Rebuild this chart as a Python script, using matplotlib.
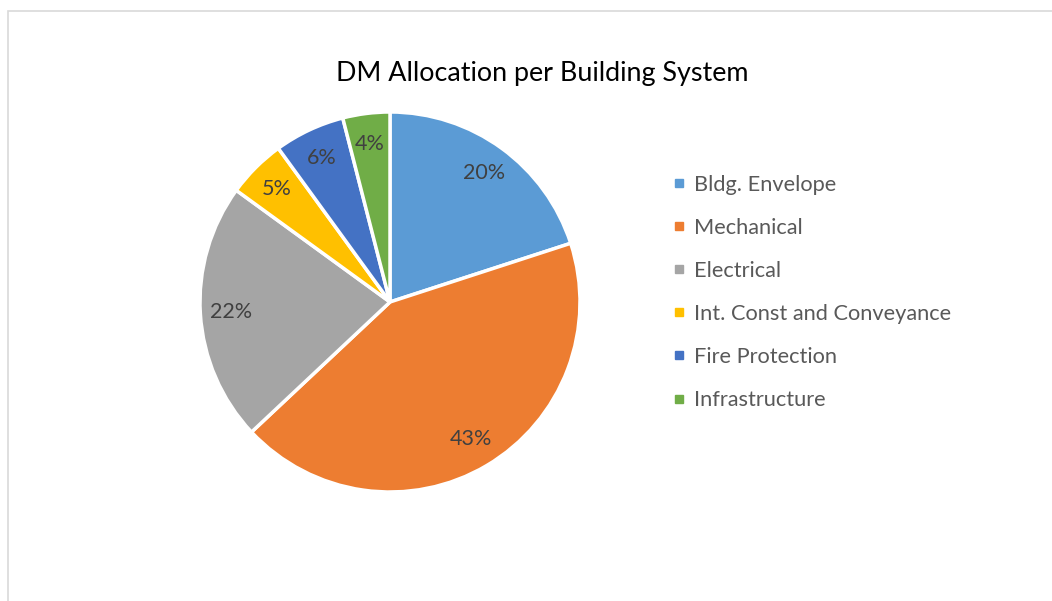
import matplotlib.pyplot as plt
from matplotlib.lines import Line2D
from matplotlib.patches import Rectangle

plt.rcParams['font.family'] = ['Lato', 'DejaVu Sans']

# DM allocation share per building system (percent)
systems = ['Bldg. Envelope', 'Mechanical', 'Electrical',
           'Int. Const and Conveyance', 'Fire Protection', 'Infrastructure']
shares = [20, 43, 22, 5, 6, 4]
colors = ['#5B9BD5', '#ED7D31', '#A5A5A5', '#FFC000', '#4472C4', '#70AD47']

W, H = 1052, 601
fig = plt.figure(figsize=(W / 100, H / 100), dpi=100)

# light grey chart-area border
fig.patches.append(Rectangle((8 / W, -0.1), 1.2, (H - 11) / H + 0.1,
                             transform=fig.transFigure, fill=False,
                             edgecolor='#D9D9D9', linewidth=1.2))

# pie axes: centre (390, 302) px, radius 190 px
r = 190
ax = fig.add_axes([(390 - r) / W, (H - 302 - r) / H, 2 * r / W, 2 * r / H])
wedges, texts, autotexts = ax.pie(
    shares, colors=colors, startangle=90, counterclock=False,
    autopct='%1.0f%%', pctdistance=0.84,
    wedgeprops=dict(edgecolor='white', linewidth=2.5),
    textprops=dict(color='#404040', fontsize=15.5))
ax.set_xlim(-1, 1)
ax.set_ylim(-1, 1)

fig.text(542 / W, 1 - 73 / H, 'DM Allocation per Building System',
         ha='center', va='center', fontsize=19.4, color='#000000')

handles = [Line2D([], [], linestyle='none', marker='s', markersize=6,
                  markerfacecolor=c, markeredgecolor=c) for c in colors]
fig.legend(handles, systems, loc='upper left',
           bbox_to_anchor=(663 / W, 1 - 164 / H), frameon=False,
           fontsize=15.7, labelcolor='#595959', handlelength=0.5,
           handletextpad=0.4, labelspacing=1.057, borderpad=0)

fig.savefig('out.png', dpi=100)
